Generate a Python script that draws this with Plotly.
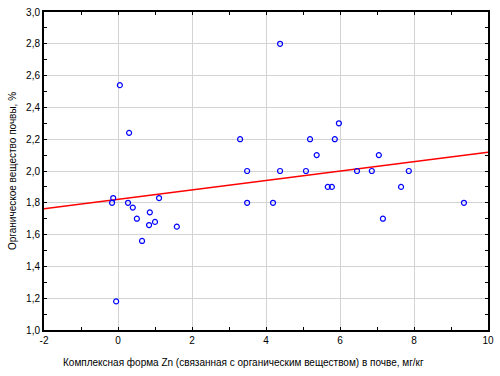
import plotly.graph_objects as go

# Data
zn_complex = [0.05, 0.30, -0.13, -0.16, 0.27, 0.40, 1.11, 0.86, 0.51, 1.00, 0.84, 1.59,
              0.65, -0.05, 4.38, 3.30, 5.19, 5.86, 5.97, 5.37, 3.49, 4.38, 5.08, 5.67,
              5.78, 3.49, 4.19, 7.05, 6.46, 6.86, 7.86, 7.65, 9.35, 7.16]
organic_matter = [2.54, 2.24, 1.83, 1.80, 1.80, 1.77, 1.83, 1.74, 1.70, 1.68, 1.66, 1.65,
                  1.56, 1.18, 2.80, 2.20, 2.20, 2.20, 2.30, 2.10, 2.00, 2.00, 2.00, 1.90,
                  1.90, 1.80, 1.80, 2.10, 2.00, 2.00, 2.00, 1.90, 1.80, 1.70]

fit_intercept = 1.822
fit_slope = 0.0296
fit_x = [-2, 10]
fit_y = [fit_intercept + fit_slope * v for v in fit_x]

x_ticks = [-2, 0, 2, 4, 6, 8, 10]
x_ticktext = ["-2", "0", "2", "4", "6", "8", "10"]
y_ticks = [1.0, 1.2, 1.4, 1.6, 1.8, 2.0, 2.2, 2.4, 2.6, 2.8, 3.0]
y_ticktext = ["1,0", "1,2", "1,4", "1,6", "1,8", "2,0", "2,2", "2,4", "2,6", "2,8", "3,0"]

x_title = "Комплексная форма Zn (связанная с органическим веществом) в почве, мг/кг"
y_title = "Органическое вещество почвы, %"

fig = go.Figure()
fig.add_trace(go.Scatter(x=fit_x, y=fit_y, mode="lines",
                         line=dict(color="#ff0000", width=1.5), showlegend=False))
fig.add_trace(go.Scatter(x=zn_complex, y=organic_matter, mode="markers",
                         marker=dict(symbol="circle-open", size=5, color="#0000ff",
                                     line=dict(width=1.2, color="#0000ff")),
                         showlegend=False, cliponaxis=False))

axis_common = dict(showline=True, mirror="allticks", linecolor="black", linewidth=2,
                   ticks="inside", ticklen=3, tickcolor="black", tickwidth=1,
                   showgrid=True, gridcolor="#d3d3d3", gridwidth=1, zeroline=False,
                   automargin=False,
                   tickfont=dict(family="Liberation Sans, Arial", size=10, color="black"))

fig.update_xaxes(range=[-2, 10], tickmode="array", tickvals=x_ticks, ticktext=x_ticktext,
                 minor=dict(dtick=1, ticks="inside", ticklen=3, tickcolor="black", showgrid=False),
                 **axis_common)
fig.update_yaxes(range=[1.0, 3.0], tickmode="array", tickvals=y_ticks, ticktext=y_ticktext,
                 minor=dict(dtick=0.1, ticks="inside", ticklen=3, tickcolor="black", showgrid=False),
                 **axis_common)

fig.update_layout(
    width=500, height=376,
    margin=dict(l=44, r=12, t=12, b=46),
    paper_bgcolor="white", plot_bgcolor="white",
    font=dict(family="Liberation Sans, Arial", size=10, color="black"),
    annotations=[
        dict(text=x_title, xref="paper", yref="paper", x=0.45, y=0, yshift=-32,
             showarrow=False, xanchor="center", yanchor="middle",
             font=dict(size=10)),
        dict(text=y_title, xref="paper", yref="paper", x=0, xshift=-32, y=0.5,
             showarrow=False, textangle=-90, xanchor="center", yanchor="middle",
             font=dict(size=10)),
    ],
)

fig.write_html("out.html", config={"displayModeBar": False},
               post_script="document.body.style.margin='0';document.body.style.padding='0';")
